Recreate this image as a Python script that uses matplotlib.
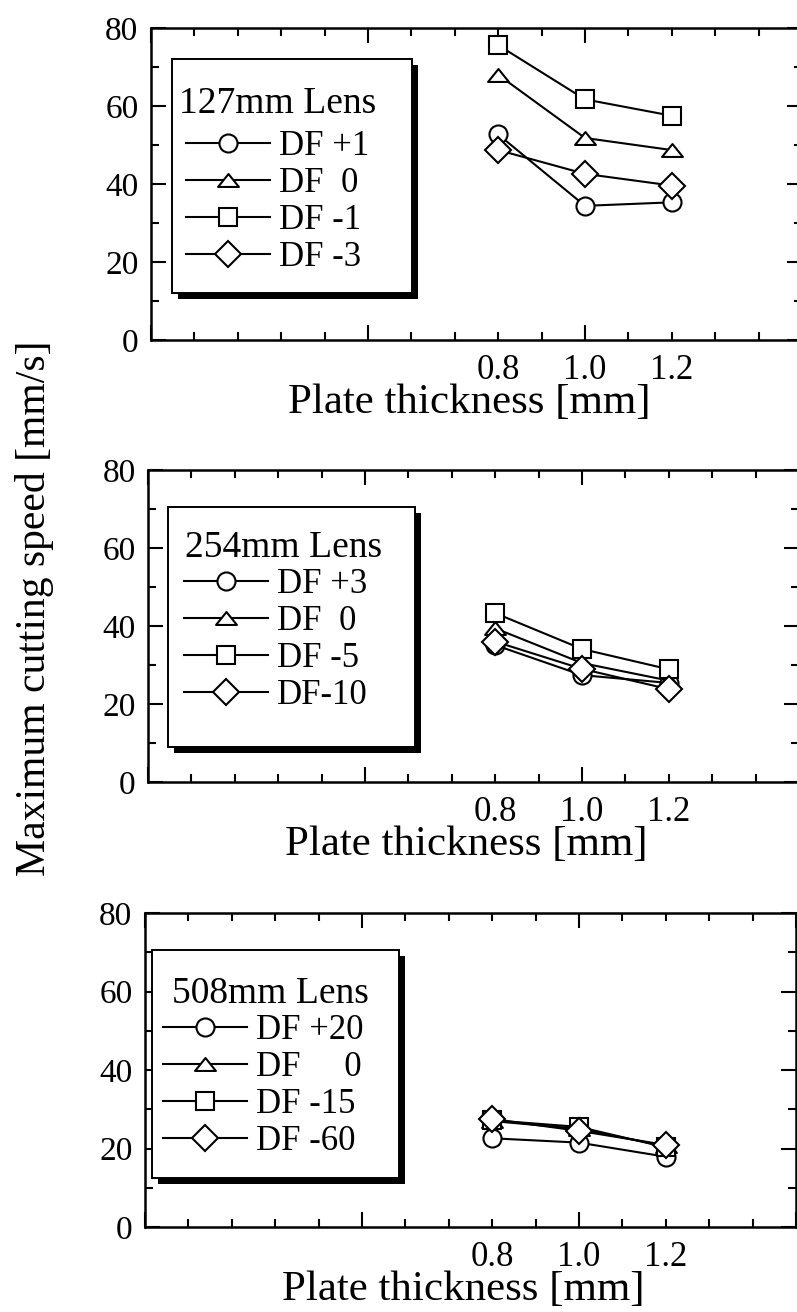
import matplotlib
matplotlib.use('Agg')
import matplotlib.pyplot as plt
from matplotlib.patches import Rectangle
from matplotlib.path import Path
from matplotlib.ticker import MultipleLocator

plt.rcParams['font.family'] = ['Liberation Serif', 'DejaVu Serif']

# plaatdikte [mm]
thickness = [0.8, 1.0, 1.2]
thickness_labels = ['0.8', '1.0', '1.2']

lens_titles = ['127mm Lens', '254mm Lens', '508mm Lens']
df_labels = [
    ['DF +1', 'DF  0', 'DF -1', 'DF -3'],
    ['DF +3', 'DF  0', 'DF -5', 'DF-10'],
    ['DF +20', 'DF     0', 'DF -15', 'DF -60'],
]

# maximale snijsnelheid [mm/s], volgorde: cirkel, driehoek, vierkant, ruit
speed_127 = [[52.7, 34.4, 35.3], [68.0, 51.8, 48.7], [75.6, 61.7, 57.5], [48.7, 42.6, 39.6]]
speed_254 = [[35.1, 27.4, 25.4], [39.4, 30.5, 26.0], [43.3, 34.1, 28.9], [36.0, 29.0, 23.8]]
speed_508 = [[22.6, 21.5, 17.9], [27.0, 25.0, 20.6], [27.2, 25.5, 20.3], [27.5, 24.5, 20.9]]
speeds = [speed_127, speed_254, speed_508]

y_ticks = [0, 20, 40, 60, 80]

# afgeplatte driehoek als marker
tri = Path([(-1, -0.62), (1, -0.62), (0, 0.62), (-1, -0.62)], closed=True)
markers = ['o', tri, 's', 'D']
msizes = [13, 15, 13, 13]

W, H = 797, 1312
fig = plt.figure(figsize=(W / 100, H / 100), dpi=100)


def fx(px):
    return px / W


def fy(py):
    return 1 - py / H


# assen in pixels: links, boven, rechts, onder
axes_px = [(151, 28, 802, 340), (148, 470, 799, 782), (145, 913, 796, 1227)]
# legendakader: links, boven, rechts, onder
legend_boxes = [(172, 59, 412, 293), (168, 507, 415, 747), (152, 950, 399, 1178)]
title_pos = [(179, 113), (185, 557), (172, 1003)]
entry_pos = [(186, 202), (184, 640), (163, 1086)]

for i in range(3):
    l, t, r, b = axes_px[i]
    ax = fig.add_axes([fx(l), fy(b), (r - l) / W, (b - t) / H])

    handles = []
    for j in range(4):
        line, = ax.plot(thickness, speeds[i][j], color='black', lw=1.5,
                        marker=markers[j], markersize=msizes[j], markerfacecolor='white',
                        markeredgecolor='black', markeredgewidth=1.5)
        handles.append(line)

    ax.set_xlim(0, 1.5)
    ax.set_ylim(0, 80)
    ax.xaxis.set_major_locator(MultipleLocator(0.5))
    ax.xaxis.set_minor_locator(MultipleLocator(0.1))
    ax.set_yticks(y_ticks)
    ax.yaxis.set_minor_locator(MultipleLocator(10))
    ax.set_xticklabels([])
    ax.set_yticklabels([str(v) for v in y_ticks], fontsize=24)
    ax.tick_params(which='both', direction='in', top=True, right=True, width=1.5)
    ax.tick_params(which='major', length=11, pad=9)
    ax.tick_params(which='minor', length=6)
    for sp in ax.spines.values():
        sp.set_linewidth(1.8)

    for v, lbl in zip(thickness, thickness_labels):
        ax.annotate(lbl, xy=(v, 0), xycoords=('data', 'axes fraction'),
                    xytext=(0, -28), textcoords='offset points',
                    ha='center', va='baseline', fontsize=25)
    ax.annotate('Plate thickness [mm]', xy=(0.733, 0), xycoords=('data', 'axes fraction'),
                xytext=(0, -52.5), textcoords='offset points',
                ha='center', va='baseline', fontsize=31)

    # legendakader met schaduw
    x0, y0, x1, y1 = legend_boxes[i]
    ax.add_patch(Rectangle((fx(x0 + 6), fy(y1 + 6)), (x1 - x0) / W, (y1 - y0) / H,
                           transform=fig.transFigure, facecolor='black',
                           edgecolor='none', zorder=4))
    ax.add_patch(Rectangle((fx(x0), fy(y1)), (x1 - x0) / W, (y1 - y0) / H,
                           transform=fig.transFigure, facecolor='white',
                           edgecolor='black', lw=1.4, zorder=4.5))
    ax.text(fx(title_pos[i][0]), fy(title_pos[i][1]), lens_titles[i],
            transform=fig.transFigure, fontsize=27, ha='left', va='baseline', zorder=6)
    leg = ax.legend(handles, df_labels[i], loc='center left',
                    bbox_to_anchor=(fx(entry_pos[i][0]), fy(entry_pos[i][1])),
                    bbox_transform=fig.transFigure, frameon=False, fontsize=25,
                    handlelength=2.42, handletextpad=0.25, labelspacing=0.11,
                    borderpad=0, borderaxespad=0)
    leg.set_zorder(6)

fig.text(fx(35), fy(608), 'Maximum cutting speed [mm/s]', rotation=90,
         ha='center', va='center', fontsize=30)

fig.savefig('out.png', dpi=100)
